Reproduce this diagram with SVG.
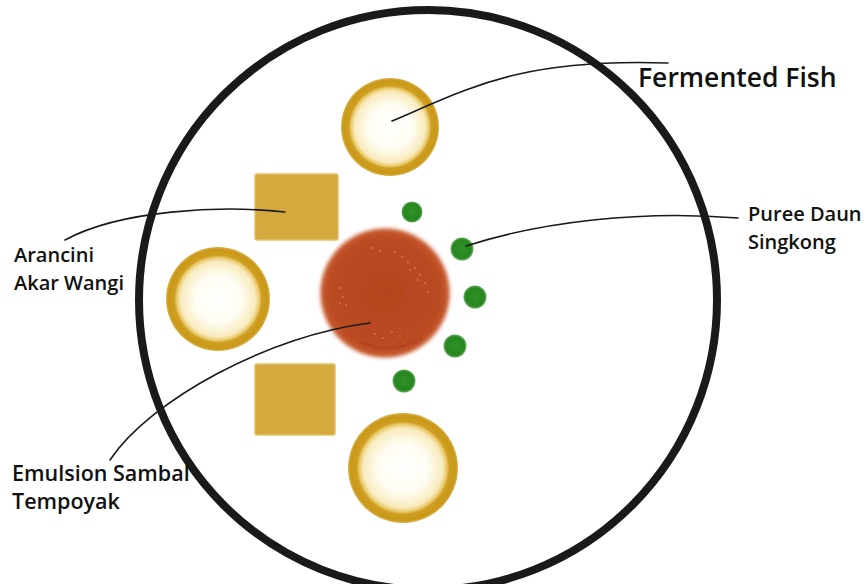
<svg xmlns="http://www.w3.org/2000/svg" width="867" height="584" viewBox="0 0 867 584">
<style>
.lbl{font-family:"Open Sans","Noto Sans","Liberation Sans",sans-serif;font-weight:600;fill:#111}
.lead{fill:none;stroke:#1a1a1a;stroke-width:1.6;stroke-linecap:round}
.ring{fill:url(#ringGrad)}
.sq{fill:#d4aa3e;stroke:#e2c06a;stroke-width:1.5}
.pea{fill:url(#peaGrad)}
</style>
<defs>
<radialGradient id="ringGrad" cx="0.5" cy="0.5" r="0.5">
<stop offset="0" stop-color="#ffffff"/>
<stop offset="0.45" stop-color="#fffdf3"/>
<stop offset="0.72" stop-color="#f8ebbd"/>
<stop offset="0.8" stop-color="#e8c766"/>
<stop offset="0.84" stop-color="#cf9f22"/>
<stop offset="0.95" stop-color="#c99818"/>
<stop offset="1" stop-color="#d9b048"/>
</radialGradient>
<radialGradient id="sauceGrad" cx="0.5" cy="0.5" r="0.5">
<stop offset="0" stop-color="#b4431e"/>
<stop offset="0.82" stop-color="#bb4a22"/>
<stop offset="0.93" stop-color="#c4572c"/>
<stop offset="1" stop-color="#d07048" stop-opacity="0"/>
</radialGradient>
<radialGradient id="peaGrad" cx="0.5" cy="0.5" r="0.5">
<stop offset="0" stop-color="#2f9228"/>
<stop offset="0.8" stop-color="#27861f"/>
<stop offset="1" stop-color="#2a8a22" stop-opacity="0.7"/>
</radialGradient>
<filter id="soft" x="-20%" y="-20%" width="140%" height="140%">
<feGaussianBlur stdDeviation="1.5"/>
</filter>
</defs>
<rect width="867" height="584" fill="#ffffff"/>
<g id="plate">
<ellipse cx="428" cy="300" rx="289" ry="290" fill="none" stroke="#1a1a1a" stroke-width="8"/>
</g>
<g id="ring-top"><circle class="ring" cx="390" cy="127" r="49"/></g>
<g id="ring-left"><circle class="ring" cx="218" cy="299" r="52"/></g>
<g id="ring-bottom"><circle class="ring" cx="403" cy="468" r="55"/></g>
<g id="arancini-top"><rect class="sq" x="255" y="174" width="83" height="66" rx="2"/></g>
<g id="arancini-bottom"><rect class="sq" x="255" y="364" width="80" height="71" rx="2"/></g>
<g id="sauce">
<circle cx="385" cy="293" r="67" fill="url(#sauceGrad)" filter="url(#soft)"/>
<path d="M360 342 Q392 356 422 338" fill="none" stroke="#a63a18" stroke-width="2.5" opacity="0.35"/>
<g fill="#e0845a" opacity="0.7">
<circle cx="372" cy="248" r="1"/><circle cx="380" cy="251" r="1"/><circle cx="395" cy="252" r="1"/><circle cx="402" cy="257" r="1"/>
<circle cx="408" cy="262" r="1"/><circle cx="415" cy="268" r="1"/><circle cx="420" cy="275" r="1"/><circle cx="425" cy="283" r="1"/>
<circle cx="428" cy="292" r="1"/><circle cx="418" cy="280" r="1"/><circle cx="410" cy="270" r="1"/>
<circle cx="340" cy="288" r="1"/><circle cx="343" cy="297" r="1"/><circle cx="346" cy="305" r="1"/><circle cx="340" cy="303" r="1"/>
<circle cx="375" cy="334" r="1"/><circle cx="383" cy="338" r="1"/><circle cx="392" cy="332" r="1"/><circle cx="400" cy="336" r="1"/>
</g>
</g>
<g id="puree">
<circle class="pea" cx="412" cy="212" r="10.5"/>
<circle class="pea" cx="462" cy="249" r="11.5"/>
<circle class="pea" cx="475" cy="297" r="11.5"/>
<circle class="pea" cx="455" cy="346" r="11.5"/>
<circle class="pea" cx="404" cy="381" r="11.5"/>
</g>
<g id="connectors">
<path class="lead" d="M392 121 C470 88 520 58 668 63"/>
<path class="lead" d="M466 246 C540 222 640 210 738 218"/>
<path class="lead" d="M285 212 C220 205 120 210 65 240"/>
<path class="lead" d="M370 323 C270 335 150 400 110 460"/>
</g>
<g id="label-fish"><text class="lbl" x="638" y="87" font-size="26.5">Fermented Fish</text></g>
<g id="label-puree"><text class="lbl" x="748" y="221" font-size="20">Puree Daun</text><text class="lbl" x="748" y="249" font-size="20">Singkong</text></g>
<g id="label-arancini"><text class="lbl" x="14" y="262" font-size="20">Arancini</text><text class="lbl" x="14" y="290" font-size="20">Akar Wangi</text></g>
<g id="label-emulsion"><text class="lbl" x="12" y="481" font-size="21.5">Emulsion Sambal</text><text class="lbl" x="12" y="509" font-size="21.5">Tempoyak</text></g>
</svg>
